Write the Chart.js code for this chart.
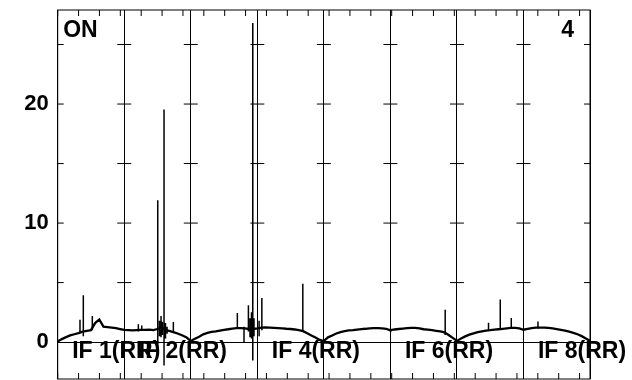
<!DOCTYPE html>
<html><head><meta charset="utf-8">
<script src="https://cdn.jsdelivr.net/npm/chart.js@4.4.1/dist/chart.umd.min.js"></script>
<style>html,body{margin:0;padding:0;background:#fff;}#wrap{width:632px;height:380px;}</style>
</head><body><div id="wrap"><canvas id="c" width="632" height="380"></canvas></div>
<script>
// ---- data ----
const panelLabels = ['IF 1(RR)', 'IF 2(RR)', '', 'IF 4(RR)', '', 'IF 6(RR)', '', 'IF 8(RR)'];
const channels = [0, 1, 2, 3, 4, 5, 6, 7, 8, 9, 10, 11, 12, 13, 14, 15, 16];
const if1 = [0.05, 0.25, 0.42, 0.56, 0.66, 0.76, 0.88, 0.95, 1.0, 1.6, 1.9, 1.3, 1.26, 1.22, 1.18, 1.1, 1.02];
const if2 = [1.02, 1.0, 0.98, 1.0, 1.02, 1.03, 1.04, 1.0, 1.1, 1.2, 1.0, 0.93, 0.82, 0.7, 0.55, 0.38, 0.1];
const if3 = [0.1, 0.28, 0.45, 0.65, 0.78, 0.86, 0.9, 0.97, 1.03, 1.08, 1.14, 1.17, 1.18, 1.15, 1.1, 1.1, 1.15];
const if4 = [1.15, 1.22, 1.24, 1.22, 1.2, 1.18, 1.15, 1.12, 1.1, 1.06, 1.0, 0.92, 0.75, 0.56, 0.38, 0.18, 0.08];
const if5 = [0.1, 0.4, 0.56, 0.72, 0.84, 0.92, 0.98, 1.0, 1.05, 1.09, 1.12, 1.16, 1.18, 1.18, 1.16, 1.12, 0.98];
const if6 = [1.0, 1.06, 1.1, 1.14, 1.17, 1.2, 1.2, 1.15, 1.08, 1.04, 1.0, 0.95, 0.9, 0.82, 0.6, 0.35, 0.1];
const if7 = [0.1, 0.3, 0.48, 0.63, 0.74, 0.84, 0.91, 0.97, 1.0, 1.04, 1.08, 1.12, 1.16, 1.2, 1.2, 1.16, 1.04];
const if8 = [1.04, 1.12, 1.18, 1.21, 1.22, 1.21, 1.19, 1.16, 1.1, 1.03, 0.96, 0.88, 0.78, 0.66, 0.5, 0.3, 0.1];
// spikes: [IF number, channel, low, high]
const spikes = [
  [1, 6.16, 0.5, 3.93], [1, 5.36, 0.75, 1.88], [1, 8.32, 1.0, 2.2],
  [2, 3.39, 0.9, 1.49], [2, 4.21, 1.0, 1.4], [2, 8.06, -0.7, 11.92], [2, 9.57, -1.96, 19.55],
  [2, 11.81, 0.8, 1.68], [2, 8.48, 0.5, 1.8], [2, 8.85, 0.4, 2.2], [2, 9.17, 0.6, 1.7],
  [2, 9.92, 0.3, 1.6], [2, 10.3, 0.7, 1.3],
  [3, 11.2, 1.1, 2.44], [3, 12.8, 0.0, 1.3], [3, 13.86, 0.9, 3.09], [3, 14.91, -1.54, 26.8],
  [3, 14.24, 0.4, 2.0], [3, 14.6, 0.3, 2.5], [3, 15.2, 0.5, 2.0],
  [4, 1.09, 1.0, 3.7], [4, 10.94, 0.9, 4.91], [4, 0.43, 0.5, 1.8],
  [6, 13.18, 0.6, 2.72],
  [7, 7.6, 0.95, 1.63], [7, 10.42, 1.05, 3.57], [7, 13.07, 1.15, 2.02],
  [8, 3.49, 1.15, 1.74]
];
const yTickLabels = [0, 10, 20];
const cornerLeft = 'ON';
const cornerRight = '4';

// ---- build ----
const panels = [if1, if2, if3, if4, if5, if6, if7, if8];
const nCh = channels[channels.length - 1];
const baseline = [];
panels.forEach((vals, p) => {
  channels.forEach((ch, i) => baseline.push({x: p + ch / nCh, y: vals[i]}));
});
const spikeData = [];
spikes.forEach(([n, ch, lo, hi]) => {
  const x = n - 1 + ch / nCh;
  spikeData.push({x, y: lo}, {x, y: hi}, {x, y: null});
});

const FONT = 'bold 23px "Liberation Sans", Arial, sans-serif';

const framePlugin = {
  id: 'frame',
  afterDatasetsDraw(chart) {
    const {ctx, chartArea: a, scales} = chart;
    const x = scales.x, y = scales.y;
    ctx.save();
    ctx.fillStyle = '#000';
    ctx.font = FONT;
    ctx.textBaseline = 'alphabetic';
    const base = y.getPixelForValue(0) + 16;
    panelLabels.forEach((t, p) => {
      if (!t) return;
      ctx.textAlign = 'left';
      ctx.fillText(t, x.getPixelForValue(p) + 14.5, base);
    });
    ctx.textAlign = 'left';
    ctx.fillText(cornerLeft, a.left + 5.5, a.top + 27.3);
    ctx.textAlign = 'right';
    ctx.fillText(cornerRight, a.right - 16, a.top + 27.3);
    ctx.restore();
  },
  afterDraw(chart) {
    const {ctx, chartArea: a, scales} = chart;
    const x = scales.x, y = scales.y, xf = scales.xf;
    ctx.save();
    ctx.strokeStyle = '#000';
    ctx.lineWidth = 1;
    ctx.strokeRect(a.left, a.top, a.right - a.left, a.bottom - a.top);
    ctx.beginPath();
    for (let k = 0; k <= 25; k++) {
      const px = xf.getPixelForValue(k);
      ctx.moveTo(px, a.top); ctx.lineTo(px, a.top + 6);
      ctx.moveTo(px, a.bottom); ctx.lineTo(px, a.bottom - 6);
    }
    for (let v = 5; v <= 25; v += 5) {
      const py = y.getPixelForValue(v);
      ctx.moveTo(a.left, py); ctx.lineTo(a.left + 6, py);
      ctx.moveTo(a.right, py); ctx.lineTo(a.right - 6, py);
      for (let p = 1; p < 8; p++) {
        const px = x.getPixelForValue(p);
        ctx.moveTo(px - 7, py); ctx.lineTo(px + 7, py);
      }
    }
    ctx.stroke();
    ctx.restore();
  }
};

new Chart(document.getElementById('c'), {
  type: 'line',
  data: {
    datasets: [
      {data: baseline, borderColor: '#000', borderWidth: 2.3, pointRadius: 0, tension: 0},
      {data: spikeData, borderColor: '#000', borderWidth: 1.5, pointRadius: 0, tension: 0, spanGaps: false}
    ]
  },
  options: {
    responsive: false,
    animation: false,
    devicePixelRatio: 1,
    layout: {padding: {top: 10, right: 42, bottom: 1, left: 0}},
    plugins: {legend: {display: false}, tooltip: {enabled: false}},
    scales: {
      x: {
        type: 'linear', min: 0, max: 8,
        ticks: {display: false, stepSize: 1},
        grid: {color: '#000', lineWidth: 1, drawTicks: false},
        border: {display: false},
        afterFit(s) { s.height = 0; s.paddingLeft = 0; s.paddingRight = 0; }
      },
      xf: {type: 'linear', display: false, min: 0, max: 25.5, position: 'bottom'},
      y: {
        type: 'linear', min: -3.1, max: 27.9,
        ticks: {
          stepSize: 10, padding: 9, color: '#000',
          font: {family: '"Liberation Sans", Arial, sans-serif', size: 22, weight: 'bold'},
          callback: v => yTickLabels.includes(v) ? String(v) : ''
        },
        grid: {
          drawTicks: false, lineWidth: 1,
          color: c => (c.tick && c.tick.value === 0) ? '#000' : 'rgba(0,0,0,0)'
        },
        border: {display: false},
        afterFit(s) { s.width = 57.7; s.paddingTop = 0; s.paddingBottom = 0; }
      }
    }
  },
  plugins: [framePlugin]
});
</script>
</body></html>
